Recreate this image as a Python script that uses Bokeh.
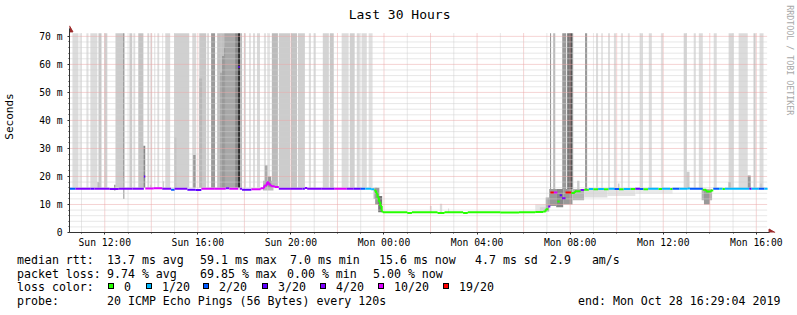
import math
import html
from bokeh.plotting import figure
from bokeh.layouts import column
from bokeh.models import Range1d, FixedTicker, Div
from bokeh.core.properties import value
from bokeh.embed import file_html
from bokeh.resources import INLINE

FONT = "DejaVu Sans Mono"
W = 797
MAIN_H, LEG_H = 250, 65
FL, FB = 67, 233                   # chart area: left edge and baseline (canvas px)
PX_PER_H = 700 / 30                # 30 hours over 700 px
PX_PER_MS = 200 / 71.07

# ---------------- data ----------------
title_text = "Last 30 Hours"
y_axis_title = "Seconds"
side_text = "RRDTOOL / TOBI OETIKER"

t_start = 10 + 29 / 60 + 4 / 3600      # Sun 10:29:04 (hours since Sun 00:00)
t_end = t_start + 30                   # Mon 16:29:04
chart_top = 71.07                      # ms at top of drawing area

x_tick_hours = [12, 16, 20, 24, 28, 32, 36, 40]
x_tick_labels = ["Sun 12:00", "Sun 16:00", "Sun 20:00", "Mon 00:00",
                 "Mon 04:00", "Mon 08:00", "Mon 12:00", "Mon 16:00"]
y_ticks = [0, 10, 20, 30, 40, 50, 60, 70]
y_tick_labels = ["0", "10 m", "20 m", "30 m", "40 m", "50 m", "60 m", "70 m"]

loss_labels = ["0", "1/20", "2/20", "3/20", "4/20", "10/20", "19/20"]
loss_colors = ["#26ff00", "#00b8ff", "#0059ff", "#5e00ff", "#7e00ff", "#dd00ff", "#ff0000"]

# median rtt (ms) steps: start hour, value, loss-colour index
median_t = [10.48, 10.74, 11.40, 11.55, 12.20, 12.60, 13.20, 13.68, 13.74, 14.10,
            14.47, 14.85, 15.00, 15.55, 15.90, 16.15, 16.70, 17.20, 17.35, 17.74,
            17.80, 17.90, 18.30, 18.70, 18.85, 18.97, 19.05, 19.15, 19.30, 19.48,
            20.00, 20.50, 20.60, 20.70, 21.30, 21.88, 22.40, 22.70, 23.00, 23.20,
            23.45, 23.58, 23.66, 23.72, 23.78, 23.84, 23.90, 23.95, 25.00, 25.20,
            26.30, 26.60, 27.40, 27.60, 29.00, 29.80, 30.50, 30.85, 30.95, 31.06,
            31.15, 31.30, 31.45, 31.55, 31.65, 31.80, 32.05, 32.20, 32.45, 32.60,
            32.80, 33.00, 33.20, 33.45, 33.65, 33.90, 34.10, 34.30, 34.60, 34.80,
            35.00, 35.15, 35.35, 35.80, 35.95, 36.30, 36.40, 36.70, 37.05, 37.15,
            37.70, 37.85, 38.05, 38.15, 38.40, 38.55, 38.65, 39.70, 39.80, 40.10,
            40.35]
median_ms = [15.6, 15.6, 15.6, 15.6, 15.5, 15.6, 15.6, 20.0, 15.7, 15.8,
             15.6, 15.3, 15.6, 15.3, 15.2, 15.6, 15.6, 15.8, 15.6, 59.1,
             15.6, 15.3, 15.4, 15.8, 16.8, 17.9, 17.0, 16.5, 16.2, 15.6,
             15.6, 15.6, 15.9, 15.6, 15.6, 15.6, 15.6, 15.6, 15.6, 15.6,
             15.4, 15.0, 14.0, 12.5, 11.0, 9.5, 7.5, 7.2, 7.0, 7.2,
             7.0, 7.2, 7.0, 7.2, 7.1, 7.2, 7.3, 7.5, 8.3, 9.3,
             14.3, 14.3, 11.1, 13.3, 12.2, 14.3, 14.1, 14.7, 15.2, 15.3,
             15.5, 15.4, 15.5, 15.4, 15.6, 15.5, 15.4, 15.5, 15.5, 15.6,
             15.5, 15.4, 15.6, 15.5, 15.6, 15.5, 15.6, 15.6, 15.7, 15.6,
             15.3, 14.6, 15.0, 15.6, 15.6, 15.5, 15.6, 15.6, 15.6, 15.6,
             15.6]
median_loss = [2, 4, 3, 4, 4, 4, 4, 3, 5, 5,
               4, 2, 4, 3, 3, 5, 5, 4, 5, 3,
               4, 3, 5, 5, 5, 5, 5, 5, 5, 4,
               4, 3, 4, 4, 4, 5, 4, 3, 2, 1,
               1, 0, 0, 0, 0, 0, 0, 0, 0, 0,
               0, 0, 0, 0, 0, 0, 0, 0, 0, 4,
               6, 5, 0, 3, 4, 6, 0, 0, 4, 0,
               1, 0, 1, 0, 1, 2, 0, 1, 0, 3,
               2, 0, 1, 0, 1, 0, 2, 1, 1, 2,
               0, 0, 0, 2, 1, 0, 1, 3, 1, 2,
               1]

# smoke reaching the chart top (start hour, end hour, shade)
tall_t0 = [10.61, 10.91, 11.21, 11.38, 11.73, 11.98, 12.46, 12.80, 13.06, 13.23,
           13.44, 13.83, 13.96, 14.13, 14.26, 14.47, 14.60, 14.98, 15.76, 16.06,
           16.40, 16.57, 16.83, 17.13, 17.60, 17.73, 17.81, 17.98, 18.20, 18.37,
           18.54, 18.84, 19.01, 19.18, 19.48, 20.00, 20.30, 20.77, 20.98, 21.37,
           21.67, 22.18, 22.53, 22.83, 23.04, 23.34,
           31.14, 31.27, 31.66, 31.87, 31.96, 32.08, 32.64, 33.11, 33.33, 33.63,
           33.88, 34.18, 34.48, 35.00, 35.38, 35.90, 36.88, 37.31, 37.53, 38.17,
           38.81, 39.24, 39.88, 40.14]
tall_t1 = [10.87, 11.00, 11.30, 11.68, 11.86, 12.11, 12.80, 12.84, 13.18, 13.31,
           13.66, 13.91, 14.04, 14.17, 14.34, 14.51, 14.81, 15.63, 15.93, 16.36,
           16.48, 16.74, 17.13, 17.60, 17.73, 17.81, 17.90, 18.07, 18.28, 18.46,
           18.67, 18.93, 19.10, 19.44, 19.96, 20.26, 20.60, 20.86, 21.07, 21.63,
           21.84, 22.48, 22.74, 22.96, 23.26, 23.51,
           31.18, 31.36, 31.83, 31.96, 32.08, 32.13, 32.73, 33.20, 33.41, 33.71,
           33.97, 34.27, 34.56, 35.13, 35.51, 35.99, 37.01, 37.40, 37.70, 38.30,
           39.03, 39.63, 39.97, 40.31]
tall_gray = ["#dcdcdc", "#e4e4e4", "#e0e0e0", "#dcdcdc", "#c8c8c8", "#d0d0d0", "#cccccc", "#707070", "#cccccc", "#dcdcdc",
             "#c4c4c4", "#d4d4d4", "#e0e0e0", "#dcdcdc", "#dcdcdc", "#e0e0e0", "#d8d8d8", "#d0d0d0", "#d8d8d8", "#c8c8c8",
             "#d8d8d8", "#9a9a9a", "#c0c0c0", "#a8a8a8", "#888888", "#222222", "#bbbbbb", "#dcdcdc", "#e0e0e0", "#dcdcdc",
             "#d8d8d8", "#e0e0e0", "#e4e4e4", "#bbbbbb", "#cccccc", "#c4c4c4", "#d0d0d0", "#dcdcdc", "#dcdcdc", "#d4d4d4",
             "#c8c8c8", "#dcdcdc", "#d0d0d0", "#d8d8d8", "#dcdcdc", "#e0e0e0",
             "#888888", "#bbbbbb", "#999999", "#777777", "#555555", "#999999", "#999999", "#dcdcdc", "#e4e4e4", "#dcdcdc",
             "#dcdcdc", "#e0e0e0", "#e0e0e0", "#dcdcdc", "#dcdcdc", "#e0e0e0", "#d4d4d4", "#dcdcdc", "#dcdcdc", "#dcdcdc",
             "#d8d8d8", "#dcdcdc", "#cccccc", "#dcdcdc"]
tall_base_sun = 16.0
tall_base_mon = 15.5

# smoke with visible ends (start hour, end hour, low ms, high ms, shade)
short_t0 = [11.68, 12.40, 12.76, 12.80, 13.66, 13.95, 14.50, 14.98, 15.80, 16.06,
            16.96, 17.04, 17.13, 18.80, 18.88, 19.00, 23.55, 23.62, 23.75, 25.97,
            26.40, 26.75, 30.50, 30.70, 30.95, 31.10, 31.40, 31.70, 32.10, 32.30,
            32.60, 33.60, 34.05, 34.80, 36.99, 37.65, 37.75, 38.80, 39.63, 40.15]
short_t1 = [11.77, 12.46, 12.80, 12.84, 13.74, 14.00, 14.55, 15.08, 15.90, 16.18,
            17.04, 17.13, 17.17, 19.25, 19.00, 19.15, 23.70, 23.80, 23.92, 26.05,
            26.50, 26.80, 30.95, 30.95, 31.10, 31.40, 31.70, 32.10, 32.60, 32.40,
            33.60, 34.80, 34.12, 36.40, 37.13, 38.10, 38.00, 38.90, 39.76, 40.25]
short_lo = [16.0, 15.0, 16.0, 12.0, 16.0, 16.0, 16.0, 16.0, 16.0, 16.0,
            16.0, 16.0, 16.0, 15.0, 16.0, 16.0, 12.0, 10.0, 7.2, 7.2,
            7.2, 7.2, 7.3, 7.3, 7.5, 9.5, 9.0, 10.0, 11.5, 15.5,
            12.5, 13.0, 15.5, 13.8, 15.5, 11.5, 10.0, 15.5, 15.5, 15.5]
short_hi = [18.0, 17.0, 19.5, 16.0, 31.0, 17.0, 18.3, 34.0, 27.7, 55.0,
            57.0, 63.0, 66.0, 18.5, 24.0, 20.0, 16.0, 16.0, 13.0, 9.5,
            10.3, 8.6, 10.0, 9.0, 12.5, 15.5, 15.5, 15.5, 15.5, 18.5,
            15.5, 15.5, 17.5, 15.5, 21.7, 15.5, 15.0, 18.0, 20.3, 17.5]
short_gray = ["#bbbbbb", "#999999", "#cccccc", "#888888", "#888888", "#cccccc", "#cccccc", "#c4c4c4", "#999999", "#b8b8b8",
              "#999999", "#999999", "#999999", "#bbbbbb", "#aaaaaa", "#999999", "#bbbbbb", "#999999", "#777777", "#dddddd",
              "#dddddd", "#dddddd", "#e6e6e6", "#d4d4d4", "#aaaaaa", "#999999", "#888888", "#999999", "#b4b4b4", "#cccccc",
              "#dedede", "#e4e4e4", "#cccccc", "#ebebeb", "#cccccc", "#b4b4b4", "#999999", "#bbbbbb", "#999999", "#cccccc"]

# legend texts
row_median = ["median rtt:", "13.7 ms avg", "59.1 ms max", "7.0 ms min", "15.6 ms now", "4.7 ms sd", "2.9   am/s"]
row_loss = ["packet loss:", "9.74 % avg", "69.85 % max", "0.00 % min", "5.00 % now"]
row_color_head = "loss color:"
row_probe = ["probe:", "20 ICMP Echo Pings (56 Bytes) every 120s"]
end_text = "end: Mon Oct 28 16:29:04 2019"


# ---------------- helpers (canvas pixel -> data, for decorations only) ----------------
def hx(px):
    return t_start + (px - FL) / PX_PER_H


def my(py):
    return (FB - py) / PX_PER_MS


# ---------------- main chart ----------------
p = figure(width=W, height=MAIN_H, output_backend="svg", toolbar_location=None, title=None,
           x_range=Range1d(t_start, hx(W)), y_range=Range1d(0, my(0)),
           min_border_left=FL, min_border_right=0, min_border_top=0, min_border_bottom=MAIN_H - FB)
p.outline_line_color = None
p.background_fill_color = "white"
p.border_fill_color = "white"
p.xgrid.visible = False
p.ygrid.visible = False

tall_lo = [tall_base_sun if t < 28 else tall_base_mon for t in tall_t0]
p.quad(left=tall_t0, right=tall_t1, bottom=tall_lo, top=[chart_top] * len(tall_t0),
       fill_color=tall_gray, line_color=None)
p.quad(left=short_t0, right=short_t1, bottom=short_lo, top=short_hi,
       fill_color=short_gray, line_color=None)

# rrdtool-style dotted grid, over the smoke
odd_h = [h for h in range(11, 41) if h % 2]
even_h = [h for h in range(12, 41) if h % 2 == 0]
minor_y = [v for v in range(2, 71, 2) if v % 10]
major_y = [v for v in range(10, 71, 10)]
for hs, col in ((odd_h, "#cfcfcf"), (even_h, "#eba7a7")):
    p.segment(x0=hs, y0=[0] * len(hs), x1=hs, y1=[chart_top] * len(hs),
              line_color=col, line_dash="1 1", line_width=1)
for vs, col in ((minor_y, "#cfcfcf"), (major_y, "#eba7a7")):
    p.segment(x0=[t_start] * len(vs), y0=vs, x1=[t_end] * len(vs), y1=vs,
              line_color=col, line_dash="1 1", line_width=1)

# median line, coloured by loss
t_next = median_t[1:] + [t_end]
seg_col = [loss_colors[k] for k in median_loss]
p.segment(x0=median_t, y0=median_ms, x1=t_next, y1=median_ms, line_color=seg_col, line_width=2)
cx, cy0, cy1, cc = [], [], [], []
for i in range(len(median_t) - 1):
    if median_loss[i] == median_loss[i + 1] and median_ms[i] != median_ms[i + 1]:
        cx.append(t_next[i]); cy0.append(median_ms[i]); cy1.append(median_ms[i + 1]); cc.append(seg_col[i])
p.segment(x0=cx, y0=cy0, x1=cx, y1=cy1, line_color=cc, line_width=2)

# axes
xa = p.xaxis[0]
xa.ticker = FixedTicker(ticks=x_tick_hours, minor_ticks=list(range(11, 41)))
xa.major_label_overrides = {h: s for h, s in zip(x_tick_hours, x_tick_labels)}
xa.bounds = (t_start, hx(769))
ya = p.yaxis[0]
ya.ticker = FixedTicker(ticks=y_ticks, minor_ticks=list(range(0, 71, 2)))
ya.major_label_overrides = {v: s for v, s in zip(y_ticks, y_tick_labels)}
ya.bounds = (0, my(28))
for ax in (xa, ya):
    ax.axis_line_color = "#333333"
    ax.major_tick_line_color = "#333333"
    ax.minor_tick_line_color = "#333333"
    ax.major_tick_in = 0
    ax.major_tick_out = 2
    ax.minor_tick_in = 0
    ax.minor_tick_out = 1
    ax.major_label_text_font = FONT
    ax.major_label_text_font_size = "9.7px"
    ax.major_label_text_color = "black"
xa.major_label_standoff = 2
ya.major_label_standoff = 5
ya.axis_label = y_axis_title
ya.axis_label_text_font = FONT
ya.axis_label_text_font_size = "11px"
ya.axis_label_text_font_style = "normal"
ya.axis_label_text_color = "black"
ya.axis_label_standoff = 20

head_col = "#9c2a2a"
p.scatter(x=[t_start], y=[my(29.5)], marker="triangle", size=7, color=head_col)
p.scatter(x=[hx(770.5)], y=[0], marker="triangle", angle=-math.pi / 2, size=7, color=head_col)

# title and side tag
p.text(x=[hx(398)], y=[my(14)], text=[title_text], text_align="center", text_baseline="middle",
       text_font=value(FONT), text_font_size=value("13px"), text_color="black")
p.text(x=[hx(789)], y=[my(60)], text=[side_text], angle=-math.pi / 2, text_align="center",
       text_baseline="middle", text_font=value(FONT), text_font_size=value("8.3px"),
       text_color="#a8a8a8")

# ---------------- legend block (below the chart) ----------------
rows_y = [10, 23.5, 37, 50.5]          # row centres inside the legend block
parts = []


def tspan(txt, px, cy):
    parts.append('<span style="position:absolute;left:%spx;top:%spx;line-height:14px;'
                 'white-space:pre;">%s</span>' % (px, cy - 7, html.escape(txt)))


for txt, px in zip(row_median, [17, 107, 200, 290, 379, 475, 550]):
    tspan(txt, px, rows_y[0])
for txt, px in zip(row_loss, [17, 107, 200, 287, 373]):
    tspan(txt, px, rows_y[1])
tspan(row_color_head, 17, rows_y[2])
box_x = [108, 146, 203, 262, 320, 378, 443]
for bx, lab, col in zip(box_x, loss_labels, loss_colors):
    parts.append('<span style="position:absolute;left:%spx;top:%spx;width:6px;height:6px;'
                 'background:%s;border:1px solid #000;"></span>' % (bx, rows_y[2] - 4, col))
    tspan(lab, bx + 16, rows_y[2])
for txt, px in zip(row_probe + [end_text], [17, 107, 578]):
    tspan(txt, px, rows_y[3])

legend_html = ('<div style="position:relative;width:%dpx;height:%dpx;font-family:\'DejaVu Sans Mono\',monospace;'
               'font-size:11.6px;color:#000;">%s</div>' % (W, LEG_H, "".join(parts)))
leg = Div(text=legend_html, width=W, height=LEG_H, margin=0)

layout = column(p, leg, spacing=0)
open("out.html", "w").write(file_html(layout, INLINE))
